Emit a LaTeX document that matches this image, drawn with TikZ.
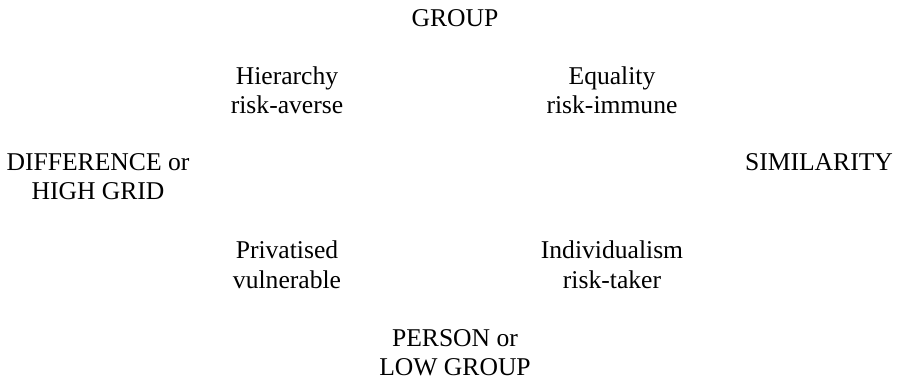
\documentclass[tikz,border=0pt]{standalone}
\usepackage{fontspec}
\setmainfont{Liberation Serif}
\begin{document}
\begin{tikzpicture}[x=1pt,y=-1pt,
  lbl/.style={anchor=base,align=center,inner sep=0pt,font=\fontsize{25.6}{29}\selectfont}]
\useasboundingbox (0,0) rectangle (902,379);
\node[lbl] (group) at (455,27) {GROUP};
\node[lbl] (hier) at (287,114) {Hierarchy\\risk-averse};
\node[lbl] (equal) at (612,114) {Equality\\risk-immune};
\node[lbl] (diff) at (98,200) {DIFFERENCE or\\HIGH GRID};
\node[lbl] (sim) at (819,171) {SIMILARITY};
\node[lbl] (priv) at (287,288) {Privatised\\vulnerable};
\node[lbl] (indiv) at (612,288) {Individualism\\risk-taker};
\node[lbl] (person) at (455,375) {PERSON or\\LOW GROUP};
\end{tikzpicture}
\end{document}
